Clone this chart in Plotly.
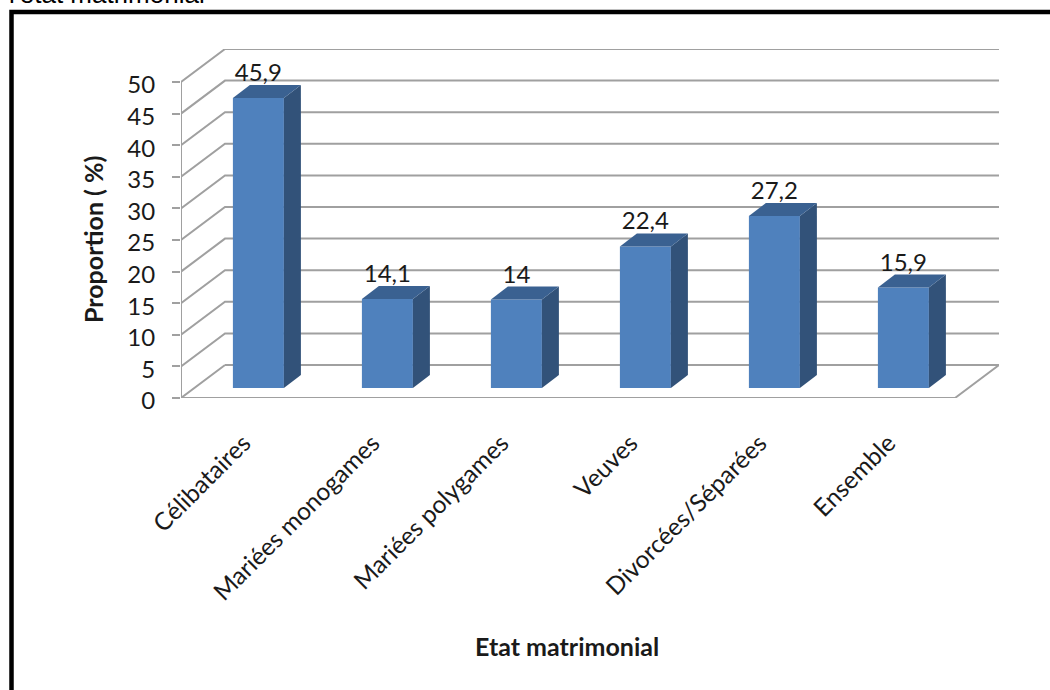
import plotly.graph_objects as go

# Chart data
categories = ["Célibataires", "Mariées monogames", "Mariées polygames",
              "Veuves", "Divorcées/Séparées", "Ensemble"]
values = [45.9, 14.1, 14, 22.4, 27.2, 15.9]
y_ticks = [0, 5, 10, 15, 20, 25, 30, 35, 40, 45, 50]
x_title = "Etat matrimonial"
y_title = "Proportion ( %)"
caption = "l'état matrimonial"

# Canvas and plot area, in pixels
W, H = 1050, 690
LEFT, RIGHT, TOP, BOTTOM = 181, 999, 49, 398
PX_PER_CAT = 129
PX_PER_UNIT = 6.32

# Oblique projection: depth of the chart box and of each column, in axis units
X_MIN = -0.5
X_FRONT_END = 5.5
X_MAX = X_MIN + (RIGHT - LEFT) / PX_PER_CAT
Y_MAX = (BOTTOM - TOP) / PX_PER_UNIT
BOX_DX = 44 / PX_PER_CAT
BOX_DY = 33 / PX_PER_UNIT
BAR_DX = 17 / PX_PER_CAT
BAR_DY = 13 / PX_PER_UNIT
BAR_BASE = 10 / PX_PER_UNIT
BAR_SHIFT = 0.1
BAR_WIDTH = 51 / PX_PER_CAT
LABEL_LIFT = 11 / PX_PER_UNIT

GRID = "#a0a0a0"
FRONT = "#4f81bd"
SIDE = "#325279"
ROOF = "#3a6191"
TEXT = "#1a1a1a"
FONT = "Lato"


def grid_shape(xs, ys):
    path = "M " + " L ".join(f"{x},{y}" for x, y in zip(xs, ys))
    return dict(type="path", path=path, xref="x", yref="y", layer="below",
                line=dict(color=GRID, width=2))


shapes = []
# Wall lines: a diagonal on the side wall, then across the back wall
for v in y_ticks:
    if v == 0:
        continue
    shapes.append(grid_shape([X_MIN, X_MIN + BOX_DX, X_MAX],
                             [v, v + BOX_DY, v + BOX_DY]))
# Floor outline
shapes.append(grid_shape(
    [X_MIN + BOX_DX, X_MIN, X_FRONT_END, X_MAX, X_MIN + BOX_DX],
    [BOX_DY, 0, 0, BOX_DY, BOX_DY]))
# Front vertical edge of the value axis
shapes.append(grid_shape([X_MIN, X_MIN], [0, y_ticks[-1]]))

# Heavy frame, open on the right and at the bottom, and running off the page
shapes.append(dict(type="path", xref="paper", yref="paper", layer="above",
                   path=f"M {11.5 / W},0 L {11.5 / W},{1 - 12 / H} L 1,{1 - 12 / H}",
                   line=dict(color="#000000", width=4.5)))

fig = go.Figure()

centres = [i + BAR_SHIFT for i in range(len(values))]

# Front faces of the columns
fig.add_trace(go.Bar(x=centres, y=values, base=[BAR_BASE] * len(values),
                     width=BAR_WIDTH, marker=dict(color=FRONT, line=dict(width=0)),
                     showlegend=False, hoverinfo="skip"))

# Side and top faces, projected from each value
for c, v in zip(centres, values):
    l, r = c - BAR_WIDTH / 2, c + BAR_WIDTH / 2
    bottom, top = BAR_BASE, BAR_BASE + v
    fig.add_trace(go.Scatter(
        x=[r, r + BAR_DX, r + BAR_DX, r, r],
        y=[bottom, bottom + BAR_DY, top + BAR_DY, top, bottom],
        mode="lines", fill="toself", fillcolor=SIDE, line=dict(width=0),
        showlegend=False, hoverinfo="skip"))
    fig.add_trace(go.Scatter(
        x=[l, r, r + BAR_DX, l + BAR_DX, l],
        y=[top, top, top + BAR_DY, top + BAR_DY, top],
        mode="lines", fill="toself", fillcolor=ROOF, line=dict(width=0),
        showlegend=False, hoverinfo="skip"))

# Value labels with a decimal comma
fig.add_trace(go.Scatter(
    x=centres, y=[BAR_BASE + v + LABEL_LIFT for v in values],
    mode="text", text=[str(v).replace(".", ",") for v in values],
    textposition="top center", textfont=dict(family=FONT, size=24, color=TEXT),
    cliponaxis=False, showlegend=False, hoverinfo="skip"))

fig.update_layout(
    width=W, height=H, margin=dict(l=0, r=0, t=0, b=0),
    paper_bgcolor="white", plot_bgcolor="rgba(0,0,0,0)",
    shapes=shapes,
    xaxis=dict(domain=[LEFT / W, RIGHT / W], range=[X_MIN, X_MAX], automargin=False,
               tickmode="array", tickvals=list(range(len(categories))),
               ticktext=categories, tickangle=-45, ticks="", showgrid=False,
               zeroline=False, showline=False, ticklabelstandoff=25,
               ticklabelshift=-2,
               tickfont=dict(family=FONT, size=24.5, color=TEXT)),
    yaxis=dict(domain=[1 - BOTTOM / H, 1 - TOP / H], range=[0, Y_MAX], automargin=False,
               tickmode="array", tickvals=y_ticks, ticks="outside", ticklen=8,
               tickwidth=2, tickcolor=GRID, showgrid=False, zeroline=False,
               showline=False, ticklabelstandoff=12, ticklabelshift=3,
               tickfont=dict(family=FONT, size=24, color=TEXT)),
    annotations=[
        dict(text=f"<b>{x_title}</b>", xref="paper", yref="paper",
             x=567 / W, y=1 - 646 / H, xanchor="center", yanchor="middle",
             showarrow=False, font=dict(family=FONT, size=25, color=TEXT)),
        dict(text=f"<b>{y_title}</b>", xref="paper", yref="paper",
             x=93 / W, y=1 - 240 / H, xanchor="center", yanchor="middle",
             textangle=-90, showarrow=False,
             font=dict(family=FONT, size=25, color=TEXT)),
        dict(text=caption, xref="paper", yref="paper", x=7 / W, y=1 - 11 / H,
             xanchor="left", yanchor="bottom", showarrow=False,
             font=dict(family="Liberation Sans", size=26, color="#000000")),
    ],
)

fig.write_html("out.html")
